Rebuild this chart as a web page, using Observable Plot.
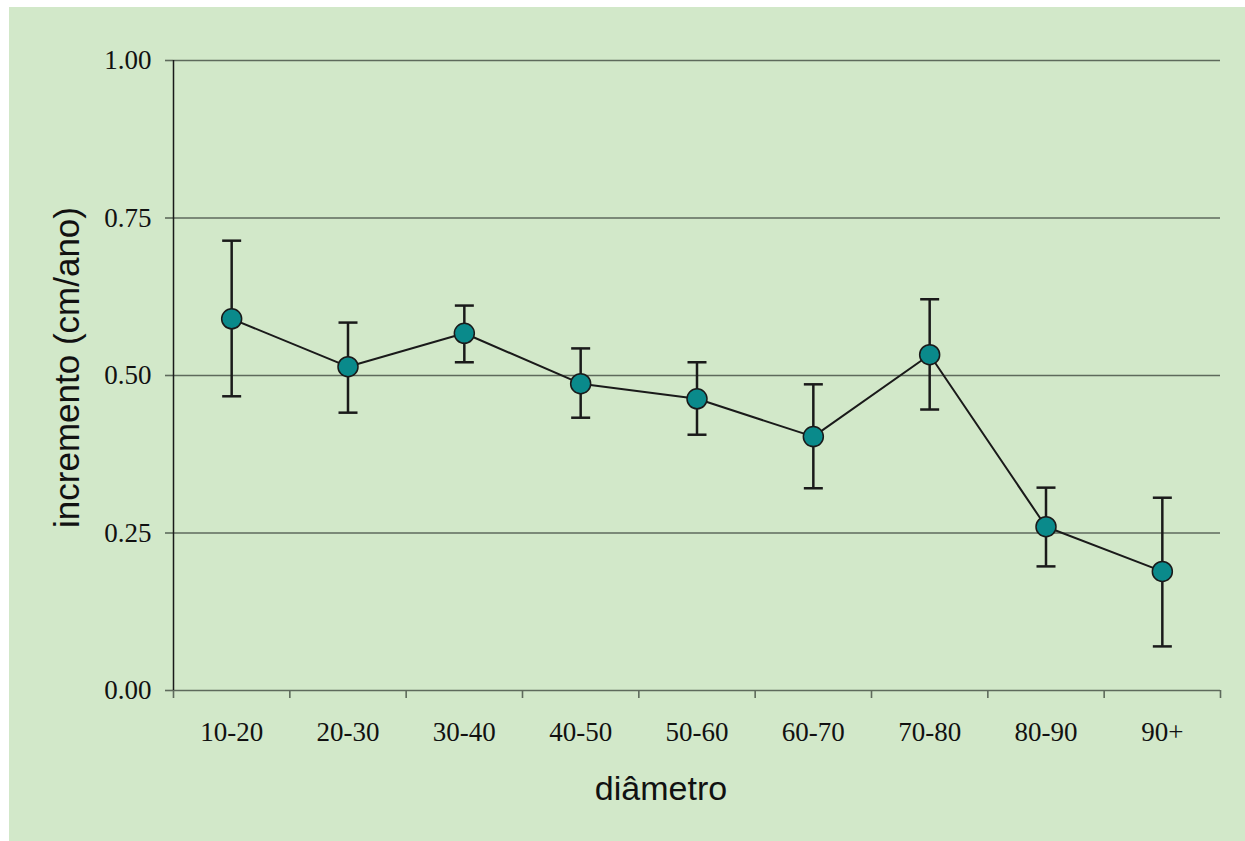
<!DOCTYPE html>
<html><head><meta charset="utf-8">
<script src="https://cdn.jsdelivr.net/npm/d3@7"></script>
<script src="https://cdn.jsdelivr.net/npm/@observablehq/plot@0.6"></script>
<style>
html,body{margin:0;padding:0;background:#fff;width:1245px;height:841px;overflow:hidden}
#panel{position:absolute;left:9px;top:7px;width:1236px;height:834px;background:#d2e8c9;color:#111}
</style></head><body><div id="panel"></div>
<script>
const categories = ["10-20","20-30","30-40","40-50","50-60","60-70","70-80","80-90","90+"];
const means = [0.590, 0.514, 0.567, 0.487, 0.463, 0.403, 0.533, 0.260, 0.189];
const upper = [0.714, 0.584, 0.611, 0.543, 0.521, 0.486, 0.621, 0.322, 0.306];
const lower = [0.467, 0.441, 0.521, 0.433, 0.406, 0.321, 0.446, 0.197, 0.070];
const yTicks = [0, 0.25, 0.5, 0.75, 1];
const xTitle = "diâmetro";
const yTitle = "incremento (cm/ano)";

const data = categories.map((c, i) => ({cat: c, pos: i + 0.5, mean: means[i], hi: upper[i], lo: lower[i]}));
const boundaries = d3.range(categories.length + 1);
const cap = {draw(ctx, size) { const w = Math.sqrt(size / Math.PI); ctx.moveTo(-w, 0); ctx.lineTo(w, 0); }};

const ink = "#1a1a1a";
const gridColor = "#5e6a5c";
const serif = "'Liberation Serif', 'Times New Roman', serif";
const sans = "'Liberation Sans', Arial, sans-serif";

const chart = Plot.plot({
  width: 1236,
  height: 834,
  marginLeft: 164,
  marginRight: 25,
  marginTop: 53,
  marginBottom: 151,
  style: {background: "transparent", color: "#111", overflow: "visible"},
  x: {type: "linear", domain: [0, categories.length]},
  y: {domain: [0, 1]},
  marks: [
    Plot.ruleY(yTicks, {stroke: gridColor, strokeWidth: 1.6}),
    Plot.axisY(yTicks, {tickSize: 8, tickPadding: 14, tickFormat: d3.format(".2f"), stroke: gridColor, strokeWidth: 1.6, fontSize: 27, fontFamily: serif, label: null}),
    Plot.axisX(boundaries, {tickSize: 8, tickFormat: () => "", stroke: gridColor, strokeWidth: 1.6, label: null}),
    Plot.axisX(data.map(d => d.pos), {tickSize: 0, tickPadding: 31, tickFormat: d => categories[Math.floor(d)], fontSize: 27, fontFamily: serif, label: null}),
    Plot.ruleX([0], {stroke: ink, strokeWidth: 1.5}),
    Plot.ruleX(data, {x: "pos", y1: "lo", y2: "hi", stroke: ink, strokeWidth: 2.5}),
    Plot.dot(data, {x: "pos", y: "hi", symbol: cap, r: 9.5, fill: "none", stroke: ink, strokeWidth: 2.5}),
    Plot.dot(data, {x: "pos", y: "lo", symbol: cap, r: 9.5, fill: "none", stroke: ink, strokeWidth: 2.5}),
    Plot.line(data, {x: "pos", y: "mean", stroke: ink, strokeWidth: 2}),
    Plot.dot(data, {x: "pos", y: "mean", r: 10, fill: "#0a8a8b", stroke: ink, strokeWidth: 1.5}),
    Plot.text([xTitle], {frameAnchor: "bottom", text: d => d, textAnchor: "middle", dx: -36, dy: 109, fontSize: 34, fontFamily: sans, fill: "#111"}),
    Plot.text([yTitle], {frameAnchor: "left", text: d => d, textAnchor: "middle", lineAnchor: "middle", rotate: -90, dx: -106, dy: -8, fontSize: 35, fontFamily: sans, fill: "#111"})
  ]
});
document.getElementById("panel").appendChild(chart);
</script>
</body></html>
